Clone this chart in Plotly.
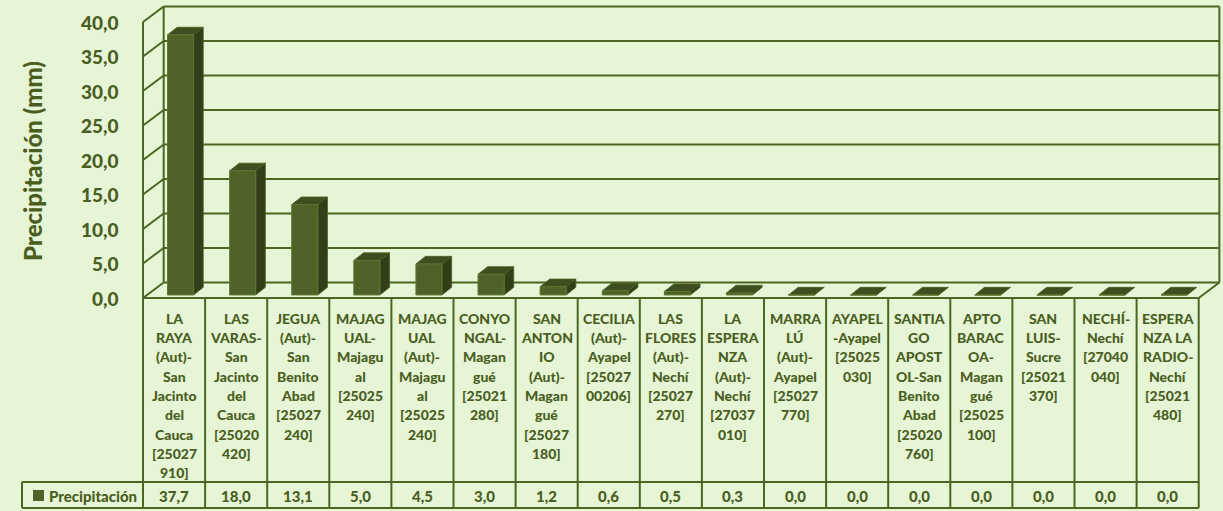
import plotly.graph_objects as go

# ---------------- data ----------------
category_labels = [
    "LA\nRAYA\n(Aut)-\nSan\nJacinto\ndel\nCauca\n[25027\n910]",
    "LAS\nVARAS-\nSan\nJacinto\ndel\nCauca\n[25020\n420]",
    "JEGUA\n(Aut)-\nSan\nBenito\nAbad\n[25027\n240]",
    "MAJAG\nUAL-\nMajagu\nal\n[25025\n240]",
    "MAJAG\nUAL\n(Aut)-\nMajagu\nal\n[25025\n240]",
    "CONYO\nNGAL-\nMagan\ngué\n[25021\n280]",
    "SAN\nANTON\nIO\n(Aut)-\nMagan\ngué\n[25027\n180]",
    "CECILIA\n(Aut)-\nAyapel\n[25027\n00206]",
    "LAS\nFLORES\n(Aut)-\nNechí\n[25027\n270]",
    "LA\nESPERA\nNZA\n(Aut)-\nNechí\n[27037\n010]",
    "MARRA\nLÚ\n(Aut)-\nAyapel\n[25027\n770]",
    "AYAPEL\n-Ayapel\n[25025\n030]",
    "SANTIA\nGO\nAPOST\nOL-San\nBenito\nAbad\n[25020\n760]",
    "APTO\nBARAC\nOA-\nMagan\ngué\n[25025\n100]",
    "SAN\nLUIS-\nSucre\n[25021\n370]",
    "NECHÍ-\nNechí\n[27040\n040]",
    "ESPERA\nNZA LA\nRADIO-\nNechí\n[25021\n480]",
]
precipitacion = [37.7, 18.0, 13.1, 5.0, 4.5, 3.0, 1.2, 0.6, 0.5, 0.3,
                 0.0, 0.0, 0.0, 0.0, 0.0, 0.0, 0.0]
y_ticks = [0, 5, 10, 15, 20, 25, 30, 35, 40]
series_name = "Precipitación"
y_title = "Precipitación (mm)"

# ---------------- geometry / style ----------------
W, H = 1223, 511
PXX = 62.1      # px per category
PXY = 6.9       # px per mm
X0PX, Y0PX = 143, 298   # pixel of (category -0.5, value 0)

def xd(px):
    return -0.5 + (px - X0PX) / PXX

def yd(py):
    return (Y0PX - py) / PXY

DX, DY = 0.333, 2.25          # wall depth offset (data units)
BAR_W, BAR_OFF, BAR_BASE = 0.42, -0.105, 0.44
BDX, BDY = 0.155, 1.1          # bar depth

BG = "#e5f5d6"
LINE = "#4a6620"
TXT = "#4a5e22"
FRONT = "#4f6228"
TOP = "#3e4e1e"
SIDE = "#313e17"
FONT = "Lato, 'Open Sans', sans-serif"

n = len(precipitacion)
idx = list(range(n))
ymax = y_ticks[-1]

fig = go.Figure()
fig.add_trace(go.Bar(
    x=idx, y=precipitacion, base=BAR_BASE, width=BAR_W, offset=BAR_OFF,
    marker=dict(color=FRONT, line=dict(color="#5e7731", width=1)),
    name=series_name, showlegend=False,
    customdata=[c.replace("\n", " ") for c in category_labels],
    hovertemplate="%{customdata}: %{y:.1f}<extra></extra>",
))

shapes = []

def line(x0, y0, x1, y1, w=2, color=LINE):
    shapes.append(dict(type="line", xref="x", yref="y", x0=x0, y0=y0, x1=x1, y1=y1,
                       line=dict(color=color, width=w), layer="below"))

left, right = -0.5, n - 0.5
# walls & gridlines
for t in y_ticks:
    line(left + DX, t + DY, right + DX, t + DY)
    line(left, t, left + DX, t + DY)
line(left, 0, left, ymax)
line(left + DX, DY, left + DX, ymax + DY)
line(right + DX, DY, right + DX, ymax + DY)
line(left, 0, right, 0)
line(right, 0, right + DX, DY)

# bar 3D faces
for i, v in enumerate(precipitacion):
    xl = i + BAR_OFF
    xr = xl + BAR_W
    yb = BAR_BASE
    yt = BAR_BASE + v
    if v > 0:
        shapes.append(dict(type="path", xref="x", yref="y", layer="below",
                           path=f"M{xr},{yb} L{xr+BDX},{yb+BDY} L{xr+BDX},{yt+BDY} L{xr},{yt} Z",
                           fillcolor=SIDE, line=dict(color="#4a5e24", width=0.8)))
    shapes.append(dict(type="path", xref="x", yref="y", layer="below",
                       path=f"M{xl},{yt} L{xr},{yt} L{xr+BDX},{yt+BDY} L{xl+BDX},{yt+BDY} Z",
                       fillcolor=TOP, line=dict(color="#4a5e24", width=0.8)))

# data table
row1, row2 = yd(482), yd(508)
for k in range(n + 1):
    line(left + k, 0, left + k, row2)
line(xd(22), row1, right, row1)
line(xd(22), row2, right, row2)
line(xd(22), row1, xd(22), row2)
shapes.append(dict(type="rect", xref="x", yref="y", x0=xd(33), x1=xd(44),
                   y0=yd(501), y1=yd(490), fillcolor=FRONT, line=dict(width=0), layer="below"))

ann = []
def fmt(v):
    return f"{v:.1f}".replace(".", ",")

for t in y_ticks:
    ann.append(dict(x=left, y=t, xref="x", yref="y", text=fmt(t), showarrow=False,
                    xanchor="right", yanchor="middle", xshift=-22,
                    font=dict(family=FONT, size=19, color=TXT, weight=900)))
ann.append(dict(x=xd(32), y=yd(161), xref="x", yref="y", text=y_title, showarrow=False,
                textangle=-90, font=dict(family=FONT, size=24, color=TXT, weight=900)))

for i, lab in enumerate(category_labels):
    for j, ln in enumerate(lab.split("\n")):
        ann.append(dict(x=i, y=yd(318.3 + 19.3 * j), xref="x", yref="y", text=ln,
                        showarrow=False, xanchor="center", yanchor="middle",
                        font=dict(family=FONT, size=14, color=TXT, weight=900)))
    ann.append(dict(x=i, y=yd(495.5), xref="x", yref="y", text=fmt(precipitacion[i]),
                    showarrow=False, xanchor="center", yanchor="middle",
                    font=dict(family=FONT, size=15, color=TXT, weight=900)))
ann.append(dict(x=xd(47), y=yd(496), xref="x", yref="y", text=series_name, showarrow=False,
                xanchor="left", yanchor="middle",
                font=dict(family=FONT, size=15, color=TXT, weight=900)))

fig.update_layout(
    width=W, height=H, margin=dict(l=0, r=0, t=0, b=0),
    paper_bgcolor=BG, plot_bgcolor="rgba(0,0,0,0)",
    xaxis=dict(range=[xd(0), xd(W)], visible=False, fixedrange=True),
    yaxis=dict(range=[yd(H), yd(0)], visible=False, fixedrange=True),
    shapes=shapes, annotations=ann, showlegend=False,
)
fig.write_html("out.html", config={"displayModeBar": False},
               post_script="document.body.style.margin='0';document.body.style.overflow='hidden';")
